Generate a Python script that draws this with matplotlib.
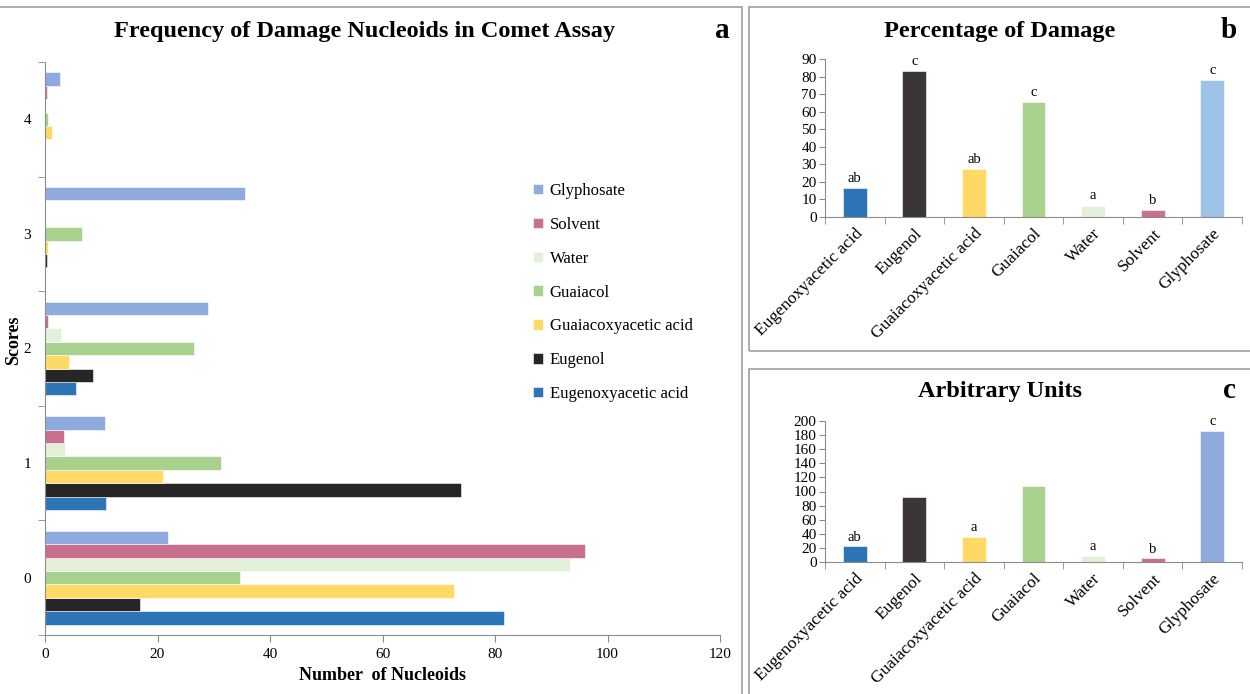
import numpy as np
import matplotlib
matplotlib.use("Agg")
import matplotlib.pyplot as plt
from matplotlib.patches import Rectangle

plt.rcParams['font.family'] = ['Liberation Serif', 'DejaVu Serif']

# data
treatments = ["Eugenoxyacetic acid", "Eugenol", "Guaiacoxyacetic acid", "Guaiacol",
              "Water", "Solvent", "Glyphosate"]
scores = [0, 1, 2, 3, 4]

# number of nucleoids per score (panel a), one list per treatment
freq = {
    "Eugenoxyacetic acid": [81.6, 10.9, 5.5, 0, 0],
    "Eugenol": [16.9, 74.0, 8.6, 0.3, 0],
    "Guaiacoxyacetic acid": [72.7, 21.0, 4.2, 0.5, 1.3],
    "Guaiacol": [34.7, 31.3, 26.5, 6.6, 0.5],
    "Water": [93.3, 3.5, 2.9, 0, 0],
    "Solvent": [96.0, 3.3, 0.5, 0, 0.3],
    "Glyphosate": [21.9, 10.6, 29.0, 35.6, 2.6],
}

pct_damage = [16.5, 83.0, 27.5, 65.5, 6.5, 4.0, 78.0]
pct_letters = ["ab", "c", "ab", "c", "a", "b", "c"]

arb_units = [22, 92, 36, 108, 9, 5, 186]
arb_letters = ["ab", "", "a", "", "a", "b", "c"]

colors_a = ["#2E75B6", "#262626", "#FFD966", "#A9D18E", "#E2F0D9", "#C9708E", "#8FAADC"]
colors_b = ["#2E75B6", "#3A3536", "#FFD966", "#A9D18E", "#E2F0D9", "#C9708E", "#9DC3E6"]
colors_c = ["#2E75B6", "#3A3536", "#FFD966", "#A9D18E", "#E2F0D9", "#C9708E", "#8FAADC"]

W, H = 1250, 694
fig = plt.figure(figsize=(W / 100, H / 100), dpi=100)
GRAY = "#8C8C8C"


def px_axes(x0, y0, x1, y1):
    # pixel box (top-left origin) -> figure axes
    return fig.add_axes([x0 / W, 1 - y1 / H, (x1 - x0) / W, (y1 - y0) / H])


def fig_box(x0, y0, x1, y1):
    fig.patches.append(Rectangle((x0 / W, 1 - y1 / H), (x1 - x0) / W, (y1 - y0) / H,
                                 transform=fig.transFigure, fill=False,
                                 edgecolor="#A0A0A0", linewidth=1.2))


# panel frames
fig_box(-5, 7, 742, 700)
fig_box(749, 7, 1260, 351)
fig_box(749, 369, 1260, 700)

# ---------------- panel a ----------------
ax = px_axes(45, 62, 720, 635)
n = len(treatments)
h = 0.82 / n
y = np.arange(len(scores))
for i, t in enumerate(treatments):
    ax.barh(y - 0.41 + h * (i + 0.5), freq[t], height=h, color=colors_a[i],
            edgecolor="white", linewidth=0.4, label=t)
ax.set_xlim(0, 120)
ax.set_ylim(-0.5, 4.5)
ax.set_xticks(np.arange(0, 121, 20))
ax.set_yticks(y)
ax.set_yticks(np.arange(-0.5, 4.6, 1), minor=True)
ax.tick_params(axis="y", which="major", length=0, labelsize=11, pad=10)
ax.tick_params(axis="y", which="minor", length=5, color=GRAY)
ax.tick_params(axis="x", length=5, color=GRAY, labelsize=11, pad=4)
for s in ["top", "right"]:
    ax.spines[s].set_visible(False)
for s in ["left", "bottom"]:
    ax.spines[s].set_color(GRAY)
ax.set_xlabel("Number  of Nucleoids", fontsize=13, fontweight="bold", labelpad=5)
fig.text(14 / W, 1 - 340 / H, "Scores", rotation=90, ha="center", va="center",
         fontsize=13, fontweight="bold")
handles, labels = ax.get_legend_handles_labels()
ax.legend(handles[::-1], labels[::-1], loc="upper left",
          bbox_to_anchor=(518 / W, 1 - 168 / H), bbox_transform=fig.transFigure,
          frameon=False, fontsize=12, handlelength=0.6, handleheight=0.6,
          handletextpad=0.4, labelspacing=1.07)
fig.text(364 / W, 1 - 32 / H, "Frequency of Damage Nucleoids in Comet Assay",
         ha="center", va="center", fontsize=17.5, fontweight="bold")
fig.text(722 / W, 1 - 30 / H, "a", ha="center", va="center", fontsize=21, fontweight="bold")


def column_panel(box, values, letters, colors, ymax, step, title, tag, ty):
    bx = px_axes(*box)
    x = np.arange(len(treatments))
    bx.bar(x, values, width=0.4, color=colors, edgecolor="white", linewidth=0.4)
    for xi, v, lt in zip(x, values, letters):
        if lt:
            bx.text(xi, v + ymax * 0.02, lt, ha="center", va="bottom", fontsize=10.5)
    bx.set_xlim(-0.5, len(treatments) - 0.5)
    bx.set_ylim(0, ymax)
    bx.set_yticks(np.arange(0, ymax + 1, step))
    bx.set_xticks(x)
    bx.set_xticklabels(treatments, rotation=45, ha="right", rotation_mode="anchor",
                       fontsize=12.5)
    bx.set_xticks(np.arange(-0.5, len(treatments), 1), minor=True)
    bx.tick_params(axis="x", which="major", length=0, pad=6)
    bx.tick_params(axis="x", which="minor", length=5, color=GRAY)
    bx.tick_params(axis="y", length=4, color=GRAY, labelsize=11, pad=2)
    for s in ["top", "right"]:
        bx.spines[s].set_visible(False)
    for s in ["left", "bottom"]:
        bx.spines[s].set_color(GRAY)
    fig.text(1000 / W, 1 - ty / H, title, ha="center", va="center",
             fontsize=17.5, fontweight="bold")
    fig.text(1229 / W, 1 - (ty - 2) / H, tag, ha="center", va="center",
             fontsize=21, fontweight="bold")
    return bx


# ---------------- panel b ----------------
column_panel((825, 59, 1242, 217), pct_damage, pct_letters, colors_b, 90, 10,
             "Percentage of Damage", "b", 32)

# ---------------- panel c ----------------
column_panel((825, 421, 1242, 562), arb_units, arb_letters, colors_c, 200, 20,
             "Arbitrary Units", "c", 392)

fig.savefig("out.png", dpi=100)
